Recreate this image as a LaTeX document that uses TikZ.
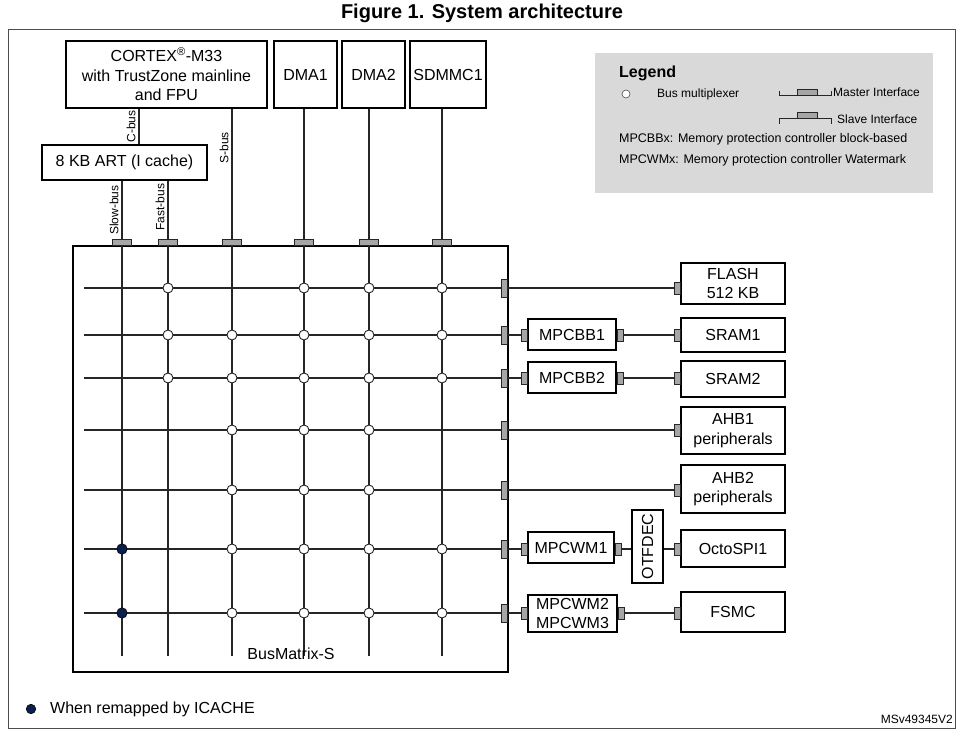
\documentclass[tikz,border=0pt]{standalone}
\usepackage{fontspec}
\setmainfont{Liberation Sans}
\usetikzlibrary{positioning}
\definecolor{legendgray}{HTML}{D9D9D9}
\definecolor{portgray}{HTML}{A6A6A6}
\definecolor{remapblue}{HTML}{0B1F4F}
\definecolor{lineblack}{HTML}{262626}
\newcommand{\bigtext}{\fontsize{16}{19.5}\selectfont}
\newcommand{\smalltext}{\fontsize{12}{14}\selectfont}

\tikzset{
  blk/.style={draw=black, line width=1.4pt, align=center, inner sep=0pt, font=\bigtext},
  bus/.style={draw=lineblack, line width=1.15pt},
  mport/.style={draw=lineblack, fill=portgray, line width=0.7pt, inner sep=0pt, minimum width=19pt, minimum height=6pt},
  sport/.style={draw=lineblack, fill=portgray, line width=0.7pt, inner sep=0pt, minimum width=6pt, minimum height=18pt},
  bport/.style={draw=lineblack, fill=portgray, line width=0.7pt, inner sep=0pt, minimum width=6pt, minimum height=12pt},
  mux/.style={circle, draw=lineblack, fill=white, line width=0.9pt, inner sep=0pt, minimum size=10pt},
  remap/.style={circle, draw=black, fill=remapblue, line width=0.6pt, inner sep=0pt, minimum size=10.5pt},
  buslabel/.style={rotate=90, anchor=south, inner sep=3pt, font=\smalltext},
  legtext/.style={anchor=west, inner sep=0pt, font=\smalltext},
}

\begin{document}
\begin{tikzpicture}[x=1pt, y=-1pt]
\useasboundingbox (0,0) rectangle (969,738);

% title and frame
\node[font=\fontsize{20}{24}\selectfont\bfseries] (title) at (482,13) {Figure 1. System architecture};
\draw[gray!60!black, line width=0.8pt] (8,29) rectangle (955,728);

% masters
\node[blk, minimum width=201pt, minimum height=67pt] (cpu) at (166.5,74.5) {CORTEX\textsuperscript{\textregistered}-M33\\with TrustZone mainline\\and FPU};
\node[blk, minimum width=63pt, minimum height=67pt] (dma1) at (305.5,74.5) {DMA1};
\node[blk, minimum width=63pt, minimum height=67pt] (dma2) at (373.5,74.5) {DMA2};
\node[blk, minimum width=76pt, minimum height=67pt] (sdmmc) at (448,74.5) {SDMMC1};
\node[blk, minimum width=165pt, minimum height=35pt] (art) at (124.5,162.5) {8 KB ART (I cache)};

% bus matrix and master ports
\node[draw=black, line width=1.4pt, minimum width=435pt, minimum height=426pt, inner sep=0pt] (bmx) at (290.5,459) {};
\node[mport, anchor=south] (mSlow) at (122,246) {};
\node[mport, anchor=south] (mFast) at (168,246) {};
\node[mport, anchor=south] (mSbus) at (232,246) {};
\node[mport, anchor=south] (mDMA1) at (304,246) {};
\node[mport, anchor=south] (mDMA2) at (369,246) {};
\node[mport, anchor=south] (mSDMMC) at (442,246) {};

% buses into the matrix
\draw[bus] (cpu.south -| 139,0) -- (art.north -| 139,0) node[buslabel, pos=0.5] (lCbus) {C-bus};
\draw[bus] (cpu.south -| mSbus) -- (mSbus.north) node[buslabel, pos=0.3] (lSbus) {S-bus};
\draw[bus] (art.south -| mSlow) -- (mSlow.north) node[buslabel, pos=0.5] (lSlow) {Slow-bus};
\draw[bus] (art.south -| mFast) -- (mFast.north) node[buslabel, pos=0.45] (lFast) {Fast-bus};
\draw[bus] (dma1.south -| mDMA1) -- (mDMA1.north);
\draw[bus] (dma2.south -| mDMA2) -- (mDMA2.north);
\draw[bus] (sdmmc.south -| mSDMMC) -- (mSDMMC.north);

% vertical bus lines
\foreach \m in {mSlow,mFast,mSbus,mDMA1,mDMA2,mSDMMC}
  \draw[bus] (\m.south) -- (\m |- 0,656);

% slave ports on the matrix
\node[sport, anchor=east] (sFLASH) at (508,288) {};
\node[sport, anchor=east] (sSRAM1) at (508,335) {};
\node[sport, anchor=east] (sSRAM2) at (508,378) {};
\node[sport, anchor=east] (sAHB1) at (508,430) {};
\node[sport, anchor=east] (sAHB2) at (508,490) {};
\node[sport, anchor=east] (sOcto) at (508,549) {};
\node[sport, anchor=east] (sFSMC) at (508,613) {};

% horizontal bus lines
\foreach \s in {sFLASH,sSRAM1,sSRAM2,sAHB1,sAHB2,sOcto,sFSMC}
  \draw[bus] (84,0 |- \s) -- (\s.west);

% bus multiplexers
\foreach \y/\cols in {288/{168,304,369,442}, 335/{168,232,304,369,442}, 378/{168,232,304,369,442},
                      430/{232,304,369}, 490/{232,304,369}, 549/{232,304,369,442}, 613/{232,304,369,442}}
  \foreach \x in \cols
    \node[mux] (mux\y-\x) at (\x,\y) {};
\node[remap] (rmOcto) at (122,549) {};
\node[remap] (rmFSMC) at (122,613) {};
\node[font=\bigtext] (bmxlabel) at (291,654) {BusMatrix-S};

% slaves
\node[blk, minimum width=104pt, minimum height=41pt] (flash) at (733,283.5) {FLASH\\512 KB};
\node[blk, minimum width=104pt, minimum height=34pt] (sram1) at (733,335) {SRAM1};
\node[blk, minimum width=104pt, minimum height=36pt] (sram2) at (733,379) {SRAM2};
\node[blk, minimum width=104pt, minimum height=47pt] (ahb1) at (733,430.5) {AHB1\\peripherals};
\node[blk, minimum width=104pt, minimum height=48pt] (ahb2) at (733,489) {AHB2\\peripherals};
\node[blk, minimum width=104pt, minimum height=37pt] (octo) at (733,548.5) {OctoSPI1};
\node[blk, minimum width=104pt, minimum height=40pt] (fsmc) at (733,612) {FSMC};

% memory protection blocks
\node[blk, minimum width=88pt, minimum height=31pt] (bb1) at (572,334.5) {MPCBB1};
\node[blk, minimum width=88pt, minimum height=31pt] (bb2) at (572,377.5) {MPCBB2};
\node[blk, minimum width=86pt, minimum height=31pt] (wm1) at (571,547.5) {MPCWM1};
\node[blk, minimum width=89pt, minimum height=37pt] (wm23) at (572.5,613.5) {MPCWM2\\MPCWM3};
\node[blk, rotate=90, minimum width=73pt, minimum height=31pt] (otfdec) at (647.5,546.5) {OTFDEC};

% ports on blocks
\node[bport, anchor=east] (tFLASH) at (flash.west |- sFLASH) {};
\node[bport, anchor=east] (tSRAM1) at (sram1.west |- sSRAM1) {};
\node[bport, anchor=east] (tSRAM2) at (sram2.west |- sSRAM2) {};
\node[bport, anchor=east] (tAHB1) at (ahb1.west |- sAHB1) {};
\node[bport, anchor=east] (tAHB2) at (ahb2.west |- sAHB2) {};
\node[bport, anchor=east] (tOcto) at (octo.west |- sOcto) {};
\node[bport, anchor=east] (tFSMC) at (fsmc.west |- sFSMC) {};
\node[bport, anchor=east] (iBB1) at (bb1.west |- sSRAM1) {};
\node[bport, anchor=west] (oBB1) at (bb1.east |- sSRAM1) {};
\node[bport, anchor=east] (iBB2) at (bb2.west |- sSRAM2) {};
\node[bport, anchor=west] (oBB2) at (bb2.east |- sSRAM2) {};
\node[bport, anchor=east] (iWM1) at (wm1.west |- sOcto) {};
\node[bport, anchor=west] (oWM1) at (wm1.east |- sOcto) {};
\node[bport, anchor=east] (iWM23) at (wm23.west |- sFSMC) {};
\node[bport, anchor=west] (oWM23) at (wm23.east |- sFSMC) {};

% links to slaves
\draw[bus] (sFLASH.east) -- (tFLASH.west);
\draw[bus] (sSRAM1.east) -- (iBB1.west);
\draw[bus] (oBB1.east) -- (tSRAM1.west);
\draw[bus] (sSRAM2.east) -- (iBB2.west);
\draw[bus] (oBB2.east) -- (tSRAM2.west);
\draw[bus] (sAHB1.east) -- (tAHB1.west);
\draw[bus] (sAHB2.east) -- (tAHB2.west);
\draw[bus] (sOcto.east) -- (iWM1.west);
\draw[bus] (oWM1.east) -- (otfdec.north |- oWM1);
\draw[bus] (otfdec.south |- tOcto) -- (tOcto.west);
\draw[bus] (sFSMC.east) -- (iWM23.west);
\draw[bus] (oWM23.east) -- (tFSMC.west);

% legend
\fill[legendgray] (595,53) rectangle (933,193);
\node[anchor=west, inner sep=0pt, font=\fontsize{16}{19}\selectfont\bfseries] (legtitle) at (619,73) {Legend};
\node[mux, minimum size=8pt, draw=gray!60!black, line width=0.6pt] (legmux) at (626,94) {};
\node[legtext] (legmuxtext) at (657,94) {Bus multiplexer};
\draw[lineblack, line width=1pt] (779,91) -- (779,96) -- (831,96) -- (831,91);
\node[mport, minimum width=20pt, anchor=south] (legmaster) at (807,96) {};
\node[legtext] (legmastertext) at (833,92) {Master Interface};
\draw[lineblack, line width=1pt] (779,124) -- (779,119) -- (831,119) -- (831,124);
\node[mport, minimum width=20pt, anchor=south] (legslave) at (807,119) {};
\node[legtext] (legslavetext) at (837,119) {Slave Interface};
\node[legtext, font=\fontsize{12.5}{14}\selectfont] (legbb) at (619,139) {MPCBBx: Memory protection controller block-based};
\node[legtext, font=\fontsize{12.5}{14}\selectfont] (legwm) at (619,160) {MPCWMx: Memory protection controller Watermark};

% footer
\node[remap, minimum size=9.5pt] (legremap) at (31,709) {};
\node[anchor=west, inner sep=0pt, font=\bigtext] (legremaptext) at (50,709) {When remapped by ICACHE};
\node[anchor=east, inner sep=0pt, font=\smalltext] (docref) at (953,719) {MSv49345V2};
\end{tikzpicture}
\end{document}
